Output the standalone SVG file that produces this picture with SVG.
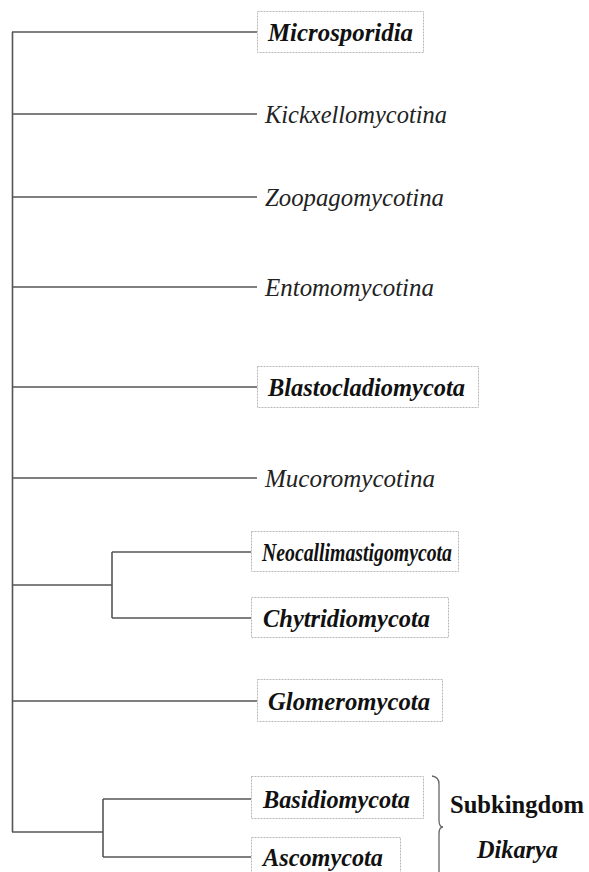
<svg xmlns="http://www.w3.org/2000/svg" width="589" height="872" viewBox="0 0 589 872">
<style>
.ln{stroke:#555;stroke-width:1.6;fill:none}
.bx{fill:#fff;stroke:#b8b8b8;stroke-width:1;stroke-dasharray:2 1}
text{font-family:"Liberation Serif","Times New Roman",serif;font-size:25px;fill:#111}
.it{font-style:italic;fill:#222}
.bi{font-style:italic;font-weight:bold}
.b{font-weight:bold}
</style>
<rect width="589" height="872" fill="#fff"/>
<g id="connectors">
<path class="ln" d="M12.5,32 V832"/>
<path class="ln" d="M12,32 H257"/>
<path class="ln" d="M12,114 H257"/>
<path class="ln" d="M12,197 H257"/>
<path class="ln" d="M12,287 H257"/>
<path class="ln" d="M12,387 H257"/>
<path class="ln" d="M12,478 H257"/>
<path class="ln" d="M12,585 H112"/>
<path class="ln" d="M112,552 V618"/>
<path class="ln" d="M112,552 H251"/>
<path class="ln" d="M112,618 H251"/>
<path class="ln" d="M12,701 H257"/>
<path class="ln" d="M12,832 H103"/>
<path class="ln" d="M103,799 V857"/>
<path class="ln" d="M103,799 H251"/>
<path class="ln" d="M103,857 H251"/>
</g>
<g id="microsporidia"><rect class="bx" x="257.5" y="11.5" width="166" height="41"/><text class="bi" x="268" y="41" textLength="145" lengthAdjust="spacingAndGlyphs">Microsporidia</text></g>
<g id="kickxellomycotina"><text class="it" x="265" y="123" textLength="182" lengthAdjust="spacingAndGlyphs">Kickxellomycotina</text></g>
<g id="zoopagomycotina"><text class="it" x="265" y="206" textLength="179" lengthAdjust="spacingAndGlyphs">Zoopagomycotina</text></g>
<g id="entomomycotina"><text class="it" x="265" y="296" textLength="169" lengthAdjust="spacingAndGlyphs">Entomomycotina</text></g>
<g id="blastocladiomycota"><rect class="bx" x="257.5" y="366.5" width="221" height="41"/><text class="bi" x="268" y="396" textLength="197" lengthAdjust="spacingAndGlyphs">Blastocladiomycota</text></g>
<g id="mucoromycotina"><text class="it" x="265" y="487" textLength="170" lengthAdjust="spacingAndGlyphs">Mucoromycotina</text></g>
<g id="neocallimastigomycota"><rect class="bx" x="251.5" y="531.5" width="207" height="40"/><text class="bi" x="262" y="561" textLength="190" lengthAdjust="spacingAndGlyphs">Neocallimastigomycota</text></g>
<g id="chytridiomycota"><rect class="bx" x="251.5" y="597.5" width="197" height="40"/><text class="bi" x="263" y="627" textLength="167" lengthAdjust="spacingAndGlyphs">Chytridiomycota</text></g>
<g id="glomeromycota"><rect class="bx" x="257.5" y="679.5" width="185" height="42"/><text class="bi" x="268" y="710" textLength="162" lengthAdjust="spacingAndGlyphs">Glomeromycota</text></g>
<g id="basidiomycota"><rect class="bx" x="251.5" y="776.5" width="172" height="42"/><text class="bi" x="263" y="808" textLength="147" lengthAdjust="spacingAndGlyphs">Basidiomycota</text></g>
<g id="ascomycota"><rect class="bx" x="251.5" y="837.5" width="149" height="42"/><text class="bi" x="263" y="866" textLength="120" lengthAdjust="spacingAndGlyphs">Ascomycota</text></g>
<g id="dikarya">
<path d="M432,776 Q439,777 439,784 V820 Q439,827 443,827 Q439,827 439,834 V880" stroke="#666" stroke-width="1.3" fill="none"/>
<text class="b" x="450" y="813" textLength="134" lengthAdjust="spacingAndGlyphs">Subkingdom</text>
<text class="bi" x="477" y="858" textLength="81" lengthAdjust="spacingAndGlyphs">Dikarya</text>
</g>
</svg>
